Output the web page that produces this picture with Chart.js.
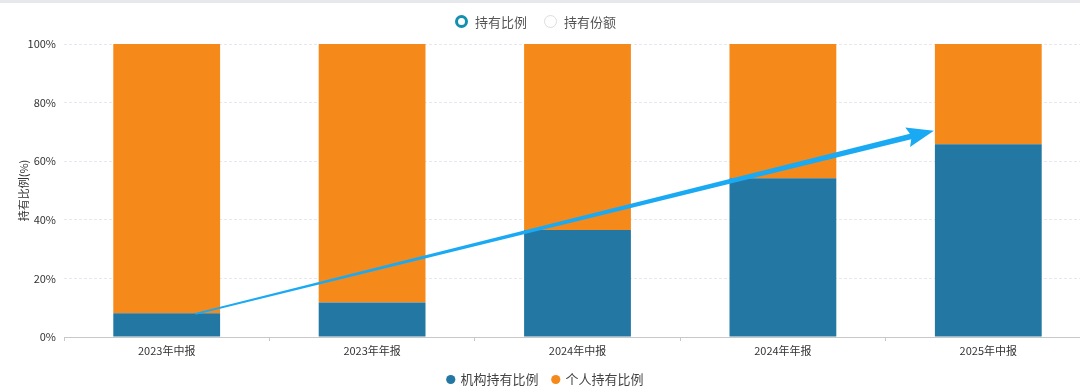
<!DOCTYPE html>
<html>
<head>
<meta charset="utf-8">
<script src="https://cdn.jsdelivr.net/npm/chart.js@4.4.1/dist/chart.umd.min.js"></script>
<style>
  html, body { margin: 0; padding: 0; background: #fff; overflow: hidden; width: 1080px; height: 390px; }
  #topbar { position: absolute; left: 0; top: 0; width: 1080px; height: 3px; background: #e7e8eb; z-index: 3; }
  #wrap { position: absolute; left: 0; top: 0; width: 1100px; height: 396px; }
  #toggles { position: absolute; top: 12px; left: 455px; font-family: "Noto Sans CJK SC", sans-serif; font-size: 13px; color: #555; display: flex; align-items: center; height: 18px; z-index: 2; }
  .radio { display: inline-block; box-sizing: border-box; width: 13px; height: 13px; border-radius: 50%; margin-right: 7px; }
  .on { border: 3.5px solid #1390ae; background: #fff; }
  .off { border: 1px solid #dcdcdc; background: #fff; }
  .item { display: flex; align-items: center; margin-right: 17px; }
</style>
</head>
<body>
<div id="topbar"></div>
<div id="toggles">
  <span class="item"><span class="radio on"></span>持有比例</span>
  <span class="item"><span class="radio off"></span>持有份额</span>
</div>
<div id="wrap"><canvas id="c" width="1100" height="396"></canvas></div>
<script>
const categories = ['2023年中报', '2023年年报', '2024年中报', '2024年年报', '2025年中报'];
const institutionalShare = [8.1, 11.8, 36.5, 54.2, 65.8];
const individualShare = [91.9, 88.2, 63.5, 45.8, 34.2];
const seriesNames = ['机构持有比例', '个人持有比例'];
const yTicks = [0, 20, 40, 60, 80, 100];
const arrowFrom = { index: 0.14, value: 7.9 };
const arrowTo = { index: 3.735, value: 70.4 };

const FONT = '"Noto Sans CJK SC", "Noto Sans", sans-serif';

const arrowPlugin = {
  id: 'trendArrow',
  afterDatasetsDraw(chart) {
    const xs = chart.scales.x, ys = chart.scales.y, ctx = chart.ctx;
    const x0 = xs.getPixelForValue(arrowFrom.index), y0 = ys.getPixelForValue(arrowFrom.value);
    const x1 = xs.getPixelForValue(arrowTo.index), y1 = ys.getPixelForValue(arrowTo.value);
    const dx = x1 - x0, dy = y1 - y0, len = Math.hypot(dx, dy);
    const ux = dx / len, uy = dy / len, nx = -uy, ny = ux;
    const headLen = 27, headHalf = 10, notch = 3;
    const bx = x1 - ux * headLen, by = y1 - uy * headLen;
    const w0 = 0.8, w1 = 2.8;
    ctx.save();
    ctx.fillStyle = '#1aa9f3';
    ctx.beginPath();
    ctx.moveTo(x0 + nx * w0, y0 + ny * w0);
    ctx.lineTo(bx + ux * notch + nx * w1, by + uy * notch + ny * w1);
    ctx.lineTo(bx + nx * headHalf, by + ny * headHalf);
    ctx.lineTo(x1, y1);
    ctx.lineTo(bx - nx * headHalf, by - ny * headHalf);
    ctx.lineTo(bx + ux * notch - nx * w1, by + uy * notch - ny * w1);
    ctx.lineTo(x0 - nx * w0, y0 - ny * w0);
    ctx.closePath();
    ctx.fill();
    ctx.restore();
  }
};

new Chart(document.getElementById('c'), {
  type: 'bar',
  data: {
    labels: categories,
    datasets: [
      { label: seriesNames[0], data: institutionalShare, backgroundColor: '#2377a3', stack: 's' },
      { label: seriesNames[1], data: individualShare, backgroundColor: '#f58919', stack: 's' }
    ]
  },
  options: {
    responsive: false,
    animation: false,
    devicePixelRatio: 1,
    layout: { padding: { top: 44, right: 9, left: 0, bottom: 0 } },
    datasets: { bar: { categoryPercentage: 1, barPercentage: 0.52 } },
    plugins: {
      tooltip: { enabled: false },
      legend: {
        position: 'bottom',
        labels: {
          usePointStyle: true, pointStyle: 'circle', boxWidth: 6.5, boxHeight: 6.5,
          padding: 14, color: '#444', font: { family: FONT, size: 13 }
        }
      }
    },
    scales: {
      x: {
        stacked: true,
        grid: { offset: true, drawOnChartArea: false, tickLength: 4, color: '#c8c8c8' },
        border: { color: '#c8c8c8' },
        ticks: { color: '#333', font: { family: FONT, size: 11 }, padding: 3 },
        afterFit(s) { s.height = 22; }
      },
      y: {
        stacked: true, min: 0, max: 100,
        afterBuildTicks(s) { s.ticks = yTicks.map(v => ({ value: v })); },
        grid: { color: '#e6e7ef', drawTicks: false },
        border: { display: false, dash: [3, 2] },
        ticks: { color: '#333', font: { family: FONT, size: 11 }, padding: 8, callback: v => v + '%' },
        title: { display: true, text: '持有比例(%)', color: '#333', font: { family: FONT, size: 11 }, padding: { top: 17, bottom: 0 } },
        afterFit(s) { s.width = 64; }
      }
    }
  },
  plugins: [arrowPlugin]
});
</script>
</body>
</html>
